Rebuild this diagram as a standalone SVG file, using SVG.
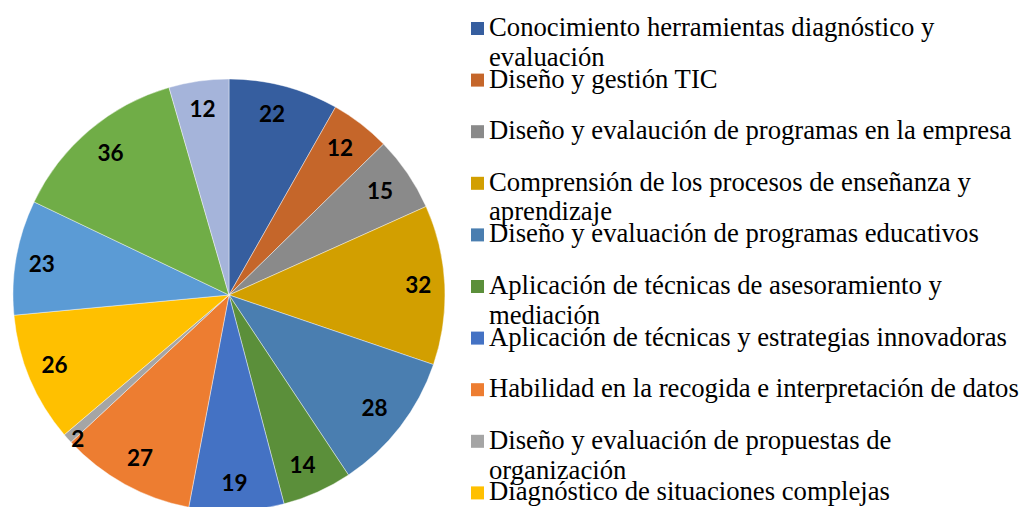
<svg xmlns="http://www.w3.org/2000/svg" width="1021" height="507" viewBox="0 0 1021 507">
<style>
.sl{stroke:#ffffff;stroke-width:0.7;stroke-opacity:0.6}
.lb{fill:#000000;text-anchor:middle}
.lg{fill:#000000}
</style>
<rect x="0" y="0" width="1021" height="507" fill="#ffffff"/>
<g id="pie" font-family="Lato" font-weight="bold" font-size="22.5">
<g id="s1"><path class="sl" fill="#365E9F" d="M229,295 L229,79 A216,216 0 0 1 335.53,107.10 Z"/><text class="lb" x="272" y="122">22</text></g>
<g id="s2"><path class="sl" fill="#C5662A" d="M229,295 L335.53,107.10 A216,216 0 0 1 383.55,144.10 Z"/><text class="lb" x="340" y="155.7">12</text></g>
<g id="s3"><path class="sl" fill="#8A8A8A" d="M229,295 L383.55,144.10 A216,216 0 0 1 426.04,206.53 Z"/><text class="lb" x="380" y="199.3">15</text></g>
<g id="s4"><path class="sl" fill="#D29F00" d="M229,295 L426.04,206.53 A216,216 0 0 1 433.47,364.62 Z"/><text class="lb" x="418.3" y="293.3">32</text></g>
<g id="s5"><path class="sl" fill="#4A7EB0" d="M229,295 L433.47,364.62 A216,216 0 0 1 348.48,474.94 Z"/><text class="lb" x="374.5" y="415.7">28</text></g>
<g id="s6"><path class="sl" fill="#5B8F3A" d="M229,295 L348.48,474.94 A216,216 0 0 1 284.09,503.86 Z"/><text class="lb" x="302.5" y="473.3">14</text></g>
<g id="s7"><path class="sl" fill="#4472C4" d="M229,295 L284.09,503.86 A216,216 0 0 1 188.72,507.21 Z"/><text class="lb" x="234.5" y="491">19</text></g>
<g id="s8"><path class="sl" fill="#ED7D31" d="M229,295 L188.72,507.21 A216,216 0 0 1 70.98,442.26 Z"/><text class="lb" x="140" y="465.7">27</text></g>
<g id="s9"><path class="sl" fill="#A5A5A5" d="M229,295 L70.98,442.26 A216,216 0 0 1 64.26,434.70 Z"/><text class="lb" x="77.8" y="447.3">2</text></g>
<g id="s10"><path class="sl" fill="#FFC000" d="M229,295 L64.26,434.70 A216,216 0 0 1 13.95,315.23 Z"/><text class="lb" x="54.5" y="373.3">26</text></g>
<g id="s11"><path class="sl" fill="#5B9BD5" d="M229,295 L13.95,315.23 A216,216 0 0 1 34.07,201.93 Z"/><text class="lb" x="41.8" y="271.7">23</text></g>
<g id="s12"><path class="sl" fill="#70AD47" d="M229,295 L34.07,201.93 A216,216 0 0 1 169.03,87.49 Z"/><text class="lb" x="110.5" y="161">36</text></g>
<g id="s13"><path class="sl" fill="#A5B4DA" d="M229,295 L169.03,87.49 A216,216 0 0 1 229,79 Z"/><text class="lb" x="202.5" y="117.3">12</text></g>
</g>
<g id="connectors"></g>
<g id="legend" font-family="Liberation Serif" font-size="26.7">
<g id="l1"><rect x="471" y="22" width="13" height="13" fill="#365E9F"/><text class="lg" x="489" y="36">Conocimiento herramientas diagnóstico y</text><text class="lg" x="489" y="65.5">evaluación</text></g>
<g id="l2"><rect x="471" y="73.6" width="13" height="13" fill="#C5662A"/><text class="lg" x="489" y="87.6">Diseño y gestión TIC</text></g>
<g id="l3"><rect x="471" y="125.2" width="13" height="13" fill="#8A8A8A"/><text class="lg" x="489" y="139.2">Diseño y evalaución de programas en la empresa</text></g>
<g id="l4"><rect x="471" y="176.8" width="13" height="13" fill="#D29F00"/><text class="lg" x="489" y="190.8">Comprensión de los procesos de enseñanza y</text><text class="lg" x="489" y="220.3">aprendizaje</text></g>
<g id="l5"><rect x="471" y="228.4" width="13" height="13" fill="#4A7EB0"/><text class="lg" x="489" y="242.4">Diseño y evaluación de programas educativos</text></g>
<g id="l6"><rect x="471" y="280" width="13" height="13" fill="#5B8F3A"/><text class="lg" x="489" y="294">Aplicación de técnicas de asesoramiento y</text><text class="lg" x="489" y="323.5">mediación</text></g>
<g id="l7"><rect x="471" y="331.6" width="13" height="13" fill="#4472C4"/><text class="lg" x="489" y="345.6">Aplicación de técnicas y estrategias innovadoras</text></g>
<g id="l8"><rect x="471" y="383.2" width="13" height="13" fill="#ED7D31"/><text class="lg" x="489" y="397.2">Habilidad en la recogida e interpretación de datos</text></g>
<g id="l9"><rect x="471" y="434.8" width="13" height="13" fill="#A5A5A5"/><text class="lg" x="489" y="448.8">Diseño y evaluación de propuestas de</text><text class="lg" x="489" y="478.8">organización</text></g>
<g id="l10"><rect x="471" y="486.4" width="13" height="13" fill="#FFC000"/><text class="lg" x="489" y="500.4">Diagnóstico de situaciones complejas</text></g>
</g>
</svg>
